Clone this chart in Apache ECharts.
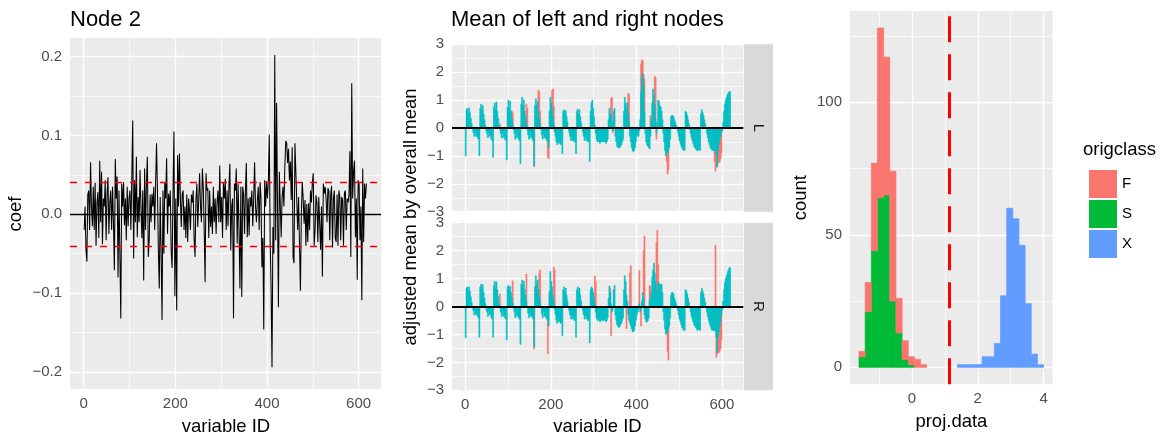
<!DOCTYPE html>
<html><head><meta charset="utf-8">
<script src="https://cdn.jsdelivr.net/npm/echarts@6.0.0/dist/echarts.min.js"></script>
<style>html,body{margin:0;padding:0;background:#fff}#c{width:1166px;height:437px}</style>
</head><body><div id="c"></div><script>
// ---------------- DATA ----------------
// Panel 1: Node 2 coefficients, variable IDs 1,3,5,...,617
const NODE2_ID_START = 1, NODE2_ID_STEP = 2;
const NODE2_COEF = [
-0.02,0.01,-0.045,-0.06,0.025,0.03,-0.02,0.066,0.01,-0.015,
0.035,-0.02,0.04,-0.04,0.015,0.028,-0.03,0.068,-0.01,0.054,
-0.038,0.02,0.01,0.043,-0.033,0.025,0.047,-0.025,0.015,0.03,
-0.02,0.035,-0.01,-0.071,0.07,0.02,0.048,-0.08,0.03,-0.05,
-0.132,0.039,0.01,0.041,-0.014,0.02,-0.033,0.035,-0.015,0.02,
0.03,-0.02,0.045,0.119,-0.056,0.043,-0.01,0.073,-0.029,0.022,
-0.01,0.056,0.01,-0.03,0.03,-0.084,0.058,-0.02,0.04,0.073,
-0.054,-0.033,0.025,-0.01,0.026,0.01,0.035,-0.02,0.04,0.09,
0.03,-0.045,-0.094,0.022,-0.05,-0.134,0.03,-0.05,0.04,0.02,
0.071,-0.025,0.026,0.01,0.03,-0.048,-0.068,0.03,0.105,-0.104,
0.02,-0.122,0.075,0.01,0.077,0.022,-0.016,0.026,0.03,-0.02,
0.01,-0.03,0.025,-0.035,0.02,0.005,-0.02,0.025,0.015,0.03,
-0.031,-0.054,0.018,0.039,-0.016,0.02,0.052,0.01,-0.01,0.058,
0.035,-0.02,-0.086,0.052,0.03,0.033,-0.03,0.03,-0.016,0.01,
-0.025,0.035,-0.01,0.02,-0.025,0.015,0.03,-0.01,0.062,-0.01,
0.022,-0.03,0.04,0.02,0.045,-0.02,0.03,-0.015,0.035,0.064,
-0.046,0.01,0.02,-0.132,0.039,0.03,0.058,-0.037,0.039,-0.02,
-0.094,0.035,-0.105,0.035,0.026,-0.025,0.03,0.065,-0.029,0.02,
-0.027,0.022,0.01,0.03,-0.015,0.02,0.066,0.01,-0.01,0.018,
0.035,-0.02,0.041,0.02,-0.067,-0.03,-0.146,0.043,0.01,0.042,
0.02,0.043,0.101,-0.033,-0.094,-0.194,-0.016,-0.05,0.202,-0.033,
0.141,0.14,-0.118,0.054,0.052,-0.029,0.022,0.035,0.01,0.06,
0.093,0.09,0.065,0.083,0.043,0.067,0.018,0.085,-0.054,-0.062,
0.09,0.088,0.018,-0.02,0.022,-0.04,-0.097,0.0,0.041,0.02,
-0.012,0.018,-0.04,0.013,-0.035,0.014,-0.02,0.03,0.015,0.04,
0.052,-0.04,-0.02,0.024,0.015,-0.035,0.022,0.02,-0.045,0.01,
-0.079,0.039,0.026,0.035,0.02,-0.01,0.033,0.03,-0.033,0.025,
0.036,-0.042,0.02,0.03,-0.03,-0.035,0.025,-0.04,0.03,0.022,
-0.033,0.022,0.018,-0.04,0.027,0.03,-0.02,0.02,0.015,0.025,
0.08,-0.054,0.166,0.02,0.054,0.068,-0.029,0.02,-0.083,0.043,
0.039,-0.033,0.01,-0.109,0.058,-0.035,0.039,0.02,0.039
];
const COEF_CUTOFFS = [-0.04, 0.04];

// Panel 2: adjusted means, variable IDs 1,3,5,...,619
const MID_ID_START = 1, MID_ID_STEP = 2;
const MID_L_TEAL = [
-1.0,0.65,0.7,0.5,0.72,0.55,0.35,0.15,0.0,-0.15,-0.3,-0.1,-0.3,-0.2,-0.35,-0.4,
-1.0,0.7,0.85,0.6,0.8,0.5,0.3,0.1,-0.1,-0.2,-0.35,-0.15,-0.3,-0.25,-0.4,-0.45,
-1.05,0.75,0.9,0.65,0.93,0.6,0.35,0.1,-0.05,-0.2,-0.35,-0.15,-0.35,-0.3,-0.4,-0.45,
-1.15,0.75,1.0,0.7,0.95,0.6,0.35,0.15,-0.05,-0.2,-0.4,-0.15,-0.35,-0.3,-0.4,-0.45,
-1.28,0.85,1.1,0.8,1.0,0.6,0.4,0.15,-0.05,-0.25,-0.4,-0.2,-0.35,-0.3,-0.4,-0.45,
-1.35,0.8,1.05,0.8,0.95,0.6,0.35,0.15,-0.05,-0.25,-0.4,-0.2,-0.35,-0.3,-0.4,-0.45,-0.5,
-0.7,0.6,1.1,0.9,0.7,0.4,0.15,-0.1,-0.3,-0.5,-0.6,-0.4,-0.55,-0.5,-0.6,-0.55,
-0.92,0.6,0.65,0.5,0.62,0.4,0.2,0.0,-0.15,-0.3,-0.45,-0.3,-0.45,-0.4,-0.5,-0.5,
-0.92,0.6,0.68,0.5,0.65,0.4,0.2,0.0,-0.15,-0.3,-0.45,-0.3,-0.45,-0.4,-0.5,-0.5,
-1.2,0.6,0.9,1.0,0.7,0.4,0.1,-0.2,-0.4,-0.5,-0.45,-0.5,-0.55,-0.5,-0.45,-0.5,
-0.5,-0.45,-0.5,-0.55,-0.5,-0.4,0.3,0.7,0.5,0.4,0.2,-0.1,0.6,0.7,-0.3,-0.5,
-0.65,-0.7,-0.72,-0.7,-0.65,-0.6,-0.5,-0.4,0.6,1.1,0.9,0.7,0.9,0.5,0.2,-0.3,
-0.5,-0.7,-0.8,-0.85,-0.8,-0.7,-0.5,-0.3,-0.2,-0.3,-0.1,0.3,1.3,1.8,1.95,1.5,
0.6,-0.2,-0.5,-0.6,-0.65,-0.7,-0.75,-0.3,0.3,0.9,1.4,1.2,0.8,0.3,-0.2,0.2,
1.0,0.95,0.8,0.75,0.6,0.3,-0.2,-0.5,-0.8,-1.0,-0.9,-0.9,-0.8,-0.7,-0.4,0.4,
0.45,0.45,0.4,0.3,0.2,0.1,0.0,-0.15,-0.3,-0.45,-0.55,-0.65,-0.72,-0.78,-0.8,-0.8,
0.6,0.55,0.45,0.3,0.15,-0.05,-0.2,-0.35,-0.45,-0.55,-0.65,-0.7,-0.75,-0.8,-0.8,-0.78,
-0.78,-0.8,0.5,0.65,0.55,0.45,0.3,0.15,0.0,-0.2,-0.35,-0.5,-0.6,-0.7,-0.75,-0.8,
-0.8,-0.8,-0.8,-0.85,-1.0,-1.4,-0.8,-0.6,-0.4,-0.3,-0.15,-0.1,0.2,0.6,0.85,1.0,1.1,1.2,1.25,1.3,1.3
];
const MID_R_TEAL = [
-1.12,0.65,0.7,0.5,0.7,0.55,0.35,0.15,0.0,-0.15,-0.3,-0.1,-0.3,-0.2,-0.35,-0.4,
-1.1,0.7,0.8,0.6,0.78,0.5,0.3,0.1,-0.1,-0.2,-0.35,-0.15,-0.3,-0.25,-0.4,-0.45,
-1.1,0.75,0.9,0.65,0.88,0.6,0.35,0.1,-0.05,-0.2,-0.35,-0.15,-0.35,-0.3,-0.4,-0.45,
-1.2,0.7,0.75,0.6,0.72,0.5,0.3,0.12,-0.05,-0.2,-0.4,-0.15,-0.35,-0.3,-0.4,-0.45,
-1.35,0.8,0.95,0.75,0.9,0.6,0.4,0.15,-0.05,-0.25,-0.4,-0.2,-0.35,-0.3,-0.4,-0.45,
-1.45,0.7,1.1,0.8,0.95,0.6,0.35,0.15,-0.05,-0.25,-0.4,-0.2,-0.35,-0.3,-0.4,-0.45,-0.5,
-0.7,0.5,1.25,0.9,0.7,0.4,0.15,-0.1,-0.3,-0.5,-0.6,-0.4,-0.55,-0.5,-0.6,-0.55,
-1.05,0.6,0.7,0.5,0.65,0.4,0.2,0.0,-0.15,-0.3,-0.45,-0.3,-0.45,-0.4,-0.5,-0.5,
-1.1,0.6,0.7,0.5,0.65,0.4,0.2,0.0,-0.15,-0.3,-0.45,-0.3,-0.45,-0.4,-0.5,-0.5,
-1.3,0.6,0.7,0.65,0.5,0.3,0.1,-0.2,-0.4,-0.5,-0.45,-0.5,-0.55,-0.5,-0.45,-0.5,
-0.5,-0.45,-0.5,-0.55,-0.5,-0.4,0.3,0.73,0.5,0.1,-0.2,-0.1,0.6,0.75,-0.3,-0.5,
-0.65,-0.7,-0.75,-0.72,-0.65,-0.6,-0.5,-0.4,0.6,1.1,0.9,0.4,0.2,-0.3,-0.5,-0.6,
-0.7,-0.8,-0.9,-0.9,-0.85,-0.7,-0.5,-0.3,-0.2,-0.1,0.1,-0.2,-0.1,0.2,0.5,0.3,
-0.3,-0.45,-0.55,-0.55,-0.5,-0.4,0.2,0.3,0.5,1.05,1.3,1.55,1.2,0.9,0.6,0.3,
0.8,0.85,0.8,0.75,0.8,0.5,-0.2,-0.5,-0.8,-1.0,-0.95,-0.9,-0.8,-0.7,-0.4,0.4,
0.5,0.5,0.45,0.3,0.2,0.1,0.0,-0.15,-0.3,-0.45,-0.55,-0.65,-0.75,-0.8,-0.85,-0.85,
0.6,0.55,0.45,0.3,0.15,-0.05,-0.2,-0.35,-0.45,-0.55,-0.65,-0.7,-0.75,-0.8,-0.85,-0.82,
-0.82,-0.85,0.5,0.65,0.55,0.45,0.3,0.15,0.0,-0.2,-0.35,-0.5,-0.6,-0.7,-0.78,-0.85,
-0.85,-0.85,-0.85,-0.9,-1.1,-1.65,-1.1,-0.9,-0.7,-0.5,-0.3,-0.1,0.2,0.6,0.85,1.0,1.1,1.2,1.3,1.38,1.4
];
// salmon values where they show beyond the teal: [variable ID, value]
const MID_L_SALMON = [
[81,0.15],[109,0.6],[111,0.55],[143,0.85],[145,0.7],[161,-1.38],[171,1.35],[173,1.3],[175,0.6],
[193,-1.05],[195,-1.1],[203,1.35],[205,1.4],[207,0.8],[209,-0.15],[289,-0.4],
[341,1.05],[343,1.1],[345,-0.15],[381,1.25],[383,1.2],[389,-0.1],
[411,2.3],[413,2.45],[415,2.4],[417,1.9],[419,1.75],[433,0.45],[443,1.85],[445,1.8],[447,-0.4],
[471,-1.2],[473,-1.65],[475,-1.5],
[583,-1.2],[585,-1.55],[587,-1.4],[589,-1.3],[591,-1.2],[593,-1.25],[595,-1.2],[597,-1.1],[599,-0.9]
];
const MID_R_SALMON = [
[81,0.45],[111,0.92],[143,1.16],[161,-1.52],[165,0.75],[173,1.2],[175,1.31],
[193,-1.7],[197,0.55],[207,1.41],[209,1.3],[303,1.1],[305,0.9],
[339,0.65],[341,-1.05],[377,-0.8],[385,1.2],[387,1.46],[407,1.29],[411,-0.7],[417,2.0],[419,2.52],
[431,0.75],[433,0.7],[447,2.3],[449,2.73],[451,1.5],[473,-1.6],[475,-1.92],
[585,2.19],[587,-1.82],[589,-1.7],[591,-1.6],[593,-1.65],[595,-1.6],[597,-1.5],[599,-1.2]
];

// Panel 3: histogram of proj.data (30 bins, lower edges) and counts per class
const BIN_LO = [-1.61,-1.423,-1.236,-1.049,-0.862,-0.675,-0.488,-0.301,-0.114,0.073,
0.26,0.447,0.634,0.821,1.008,1.195,1.382,1.569,1.756,1.943,
2.13,2.317,2.504,2.691,2.878,3.065,3.252,3.439,3.626,3.813];
const BIN_WIDTH = 0.187;
const COUNT_F = [2,11,33,64,52,49,13,7,3,3,1,0,0,0,0,0,0,0,0,0,0,0,0,0,0,0,0,0,0,0];
const COUNT_S = [4,21,44,64,65,25,13,3,1,0,0,0,0,0,0,0,0,0,0,0,0,0,0,0,0,0,0,0,0,0];
const COUNT_X = [0,0,0,0,0,0,0,0,0,0,0,0,0,0,0,0,1,1,1,1,4,4,9,27,60,56,46,24,5,1];
const SPLIT_POINT = 1.124;
const CLASSES = ['F','S','X'];

// Tick values
const ID_TICKS = [0,200,400,600], ID_MINOR = [100,300,500];
const COEF_TICKS = [-0.2,-0.1,0,0.1,0.2], COEF_MINOR = [-0.15,-0.05,0.05,0.15];
const MEAN_TICKS = [-3,-2,-1,0,1,2,3], MEAN_MINOR = [-2.5,-1.5,-0.5,0.5,1.5,2.5];
const PROJ_TICKS = [0,2,4], PROJ_MINOR = [-1,1,3];
const COUNT_TICKS = [0,50,100], COUNT_MINOR = [25,75,125];

// ---------------- STYLE ----------------
const FONT = '"Liberation Sans", Arial, Helvetica, sans-serif';
const COL = {F:'#F8766D', S:'#00BA38', X:'#619CFF', salmon:'#F8766D', teal:'#00BFC4'};
const PANEL_BG = '#EBEBEB';
const minus = s => String(s).replace('-', '\u2212');

const chart = echarts.init(document.getElementById('c'), null, {renderer:'canvas'});

function xAx(gi, min, max, ticks, showLab, fmt){
  return {gridIndex:gi, type:'value', min, max,
    axisLine:{show:false}, splitLine:{show:false},
    axisTick:{show:showLab, customValues:ticks, length:4.5, lineStyle:{color:'#333333', width:1.1}},
    axisLabel:{show:showLab, customValues:ticks, color:'#4D4D4D', fontSize:15, fontFamily:FONT, margin:7,
      formatter: fmt || (v=>minus(v))}};
}
function yAx(gi, min, max, ticks, fmt){
  return {gridIndex:gi, type:'value', min, max,
    axisLine:{show:false}, splitLine:{show:false},
    axisTick:{customValues:ticks, length:4.5, lineStyle:{color:'#333333', width:1.1}},
    axisLabel:{customValues:ticks, color:'#4D4D4D', fontSize:15, fontFamily:FONT, margin:8,
      formatter: fmt || (v=>minus(v))}};
}
function gridLines(gi, xMaj, xMin, yMaj, yMin){
  const mk = (width, xs, ys) => ({type:'line', xAxisIndex:gi, yAxisIndex:gi, data:[], silent:true, z:1,
    markLine:{z:1, silent:true, animation:false, symbol:['none','none'], label:{show:false},
      emphasis:{disabled:true},
      lineStyle:{color:'#FFFFFF', width, type:'solid'},
      data:[...xs.map(v=>({xAxis:v})), ...ys.map(v=>({yAxis:v}))]}});
  return [mk(0.7, xMin, yMin), mk(1.4, xMaj, yMaj)];
}
function overlay(gi, items){
  return {type:'line', xAxisIndex:gi, yAxisIndex:gi, data:[], silent:true, z:20,
    markLine:{z:20, silent:true, animation:false, symbol:['none','none'], label:{show:false},
      emphasis:{disabled:true}, data:items}};
}
const HALF = 1.2;
function barSeries(gi, pairs, color, z){
  return {type:'custom', xAxisIndex:gi, yAxisIndex:gi, z, silent:true, clip:true,
    data:pairs,
    renderItem:(params, api)=>{
      const x = api.value(0), y = api.value(1);
      const a = api.coord([x-HALF, 0]), b = api.coord([x+HALF, y]);
      return {type:'rect', shape:{x:a[0], y:Math.min(a[1],b[1]), width:b[0]-a[0], height:Math.abs(b[1]-a[1])},
        style:{fill:color, stroke:color, lineWidth:0.6}};
    }};
}
function histSeries(name, rows){
  return {type:'custom', name, xAxisIndex:3, yAxisIndex:3, z:8, silent:true,
    itemStyle:{color:COL[name]}, data:rows,
    renderItem:(params, api)=>{
      const a = api.coord([api.value(0), api.value(2)]), b = api.coord([api.value(1), api.value(3)]);
      return {type:'rect', shape:{x:a[0], y:b[1], width:b[0]-a[0], height:a[1]-b[1]},
        style:{fill:COL[name], stroke:COL[name], lineWidth:0.7}};
    }};
}

const idPairs = (arr, start, step) => arr.map((v,i)=>[start+step*i, v]);
const histRows = {X:[], S:[], F:[]};
BIN_LO.forEach((lo,i)=>{
  const hi = lo + BIN_WIDTH;
  const x = COUNT_X[i], s = COUNT_S[i], f = COUNT_F[i];
  if (x>0) histRows.X.push([lo, hi, 0, x]);
  if (s>0) histRows.S.push([lo, hi, x, x+s]);
  if (f>0) histRows.F.push([lo, hi, x+s, x+s+f]);
});

const txt = (text, x, y, size, opt={}) => ({type:'text', x, y, rotation:opt.rot||0, z:100,
  style:{text, fontSize:size, fontFamily:FONT, fill:opt.color||'#000',
    align:opt.align||'center', verticalAlign:'middle', textAlign:opt.align||'center', textVerticalAlign:'middle'}});

const option = {
  backgroundColor:'#FFFFFF',
  animation:false,
  grid:[
    {left:70, top:38, width:311, height:351, show:true, backgroundColor:PANEL_BG, borderWidth:0},
    {left:452, top:44.3, width:291.3, height:167.4, show:true, backgroundColor:PANEL_BG, borderWidth:0},
    {left:452, top:222.7, width:291.3, height:167.6, show:true, backgroundColor:PANEL_BG, borderWidth:0},
    {left:850, top:11, width:202.7, height:373.3, show:true, backgroundColor:PANEL_BG, borderWidth:0}
  ],
  xAxis:[
    xAx(0, -29.85, 648.85, ID_TICKS, true),
    xAx(1, -31, 650, ID_TICKS, false),
    xAx(2, -31, 650, ID_TICKS, true),
    xAx(3, -1.884, 4.277, PROJ_TICKS, true)
  ],
  yAxis:[
    yAx(0, -0.2215, 0.2235, COEF_TICKS, v=>minus(Number(v).toFixed(1))),
    yAx(1, -3, 3, MEAN_TICKS),
    yAx(2, -3, 3, MEAN_TICKS),
    yAx(3, -6.4, 134.4, COUNT_TICKS)
  ],
  legend:{orient:'vertical', left:1084, top:165, itemWidth:28, itemHeight:28, itemGap:2, icon:'rect',
    selectedMode:false, data:CLASSES, textStyle:{fontSize:15, color:'#000', fontFamily:FONT}},
  series:[
    ...gridLines(0, ID_TICKS, ID_MINOR, COEF_TICKS, COEF_MINOR),
    ...gridLines(1, ID_TICKS, ID_MINOR, MEAN_TICKS, MEAN_MINOR),
    ...gridLines(2, ID_TICKS, ID_MINOR, MEAN_TICKS, MEAN_MINOR),
    ...gridLines(3, PROJ_TICKS, PROJ_MINOR, COUNT_TICKS, COUNT_MINOR),
    {type:'line', xAxisIndex:0, yAxisIndex:0, z:8, silent:true, showSymbol:false, symbol:'none',
      data:idPairs(NODE2_COEF, NODE2_ID_START, NODE2_ID_STEP),
      lineStyle:{color:'#000000', width:1.05}},
    overlay(0, [
      {yAxis:0, lineStyle:{color:'#000000', width:1.3, type:'solid'}},
      ...COEF_CUTOFFS.map(v=>({yAxis:v, lineStyle:{color:'#FF0000', width:1.4, type:[7,8]}}))
    ]),
    barSeries(1, MID_L_SALMON, COL.salmon, 7),
    barSeries(1, idPairs(MID_L_TEAL, MID_ID_START, MID_ID_STEP), COL.teal, 8),
    barSeries(2, MID_R_SALMON, COL.salmon, 7),
    barSeries(2, idPairs(MID_R_TEAL, MID_ID_START, MID_ID_STEP), COL.teal, 8),
    overlay(1, [{yAxis:0, lineStyle:{color:'#000000', width:2, type:'solid'}}]),
    overlay(2, [{yAxis:0, lineStyle:{color:'#000000', width:2, type:'solid'}}]),
    histSeries('X', histRows.X),
    histSeries('S', histRows.S),
    histSeries('F', histRows.F),
    overlay(3, [{xAxis:SPLIT_POINT, lineStyle:{color:'#FF0000', width:3, type:[26,12]}}])
  ],
  graphic:[
    {type:'rect', z:50, shape:{x:744, y:44.3, width:29, height:167.4}, style:{fill:'#D9D9D9'}},
    {type:'rect', z:50, shape:{x:744, y:222.7, width:29, height:167.6}, style:{fill:'#D9D9D9'}},
    txt('L', 758.5, 128, 15, {rot:-Math.PI/2, color:'#1A1A1A'}),
    txt('R', 758.5, 306.5, 15, {rot:-Math.PI/2, color:'#1A1A1A'}),
    txt('Node 2', 70, 19.5, 22, {align:'left'}),
    txt('Mean of left and right nodes', 451, 19.5, 22, {align:'left'}),
    txt('coef', 16, 214, 18.5, {rot:Math.PI/2}),
    txt('variable ID', 226, 427, 18.5),
    txt('adjusted mean by overall mean', 411, 217, 18.5, {rot:Math.PI/2}),
    txt('variable ID', 597.5, 427, 18.5),
    txt('count', 801, 197.7, 18.5, {rot:Math.PI/2}),
    txt('proj.data', 951.4, 421.5, 18.5),
    txt('origclass', 1083, 150, 18.5, {align:'left'})
  ]
};
chart.setOption(option);
</script></body></html>
